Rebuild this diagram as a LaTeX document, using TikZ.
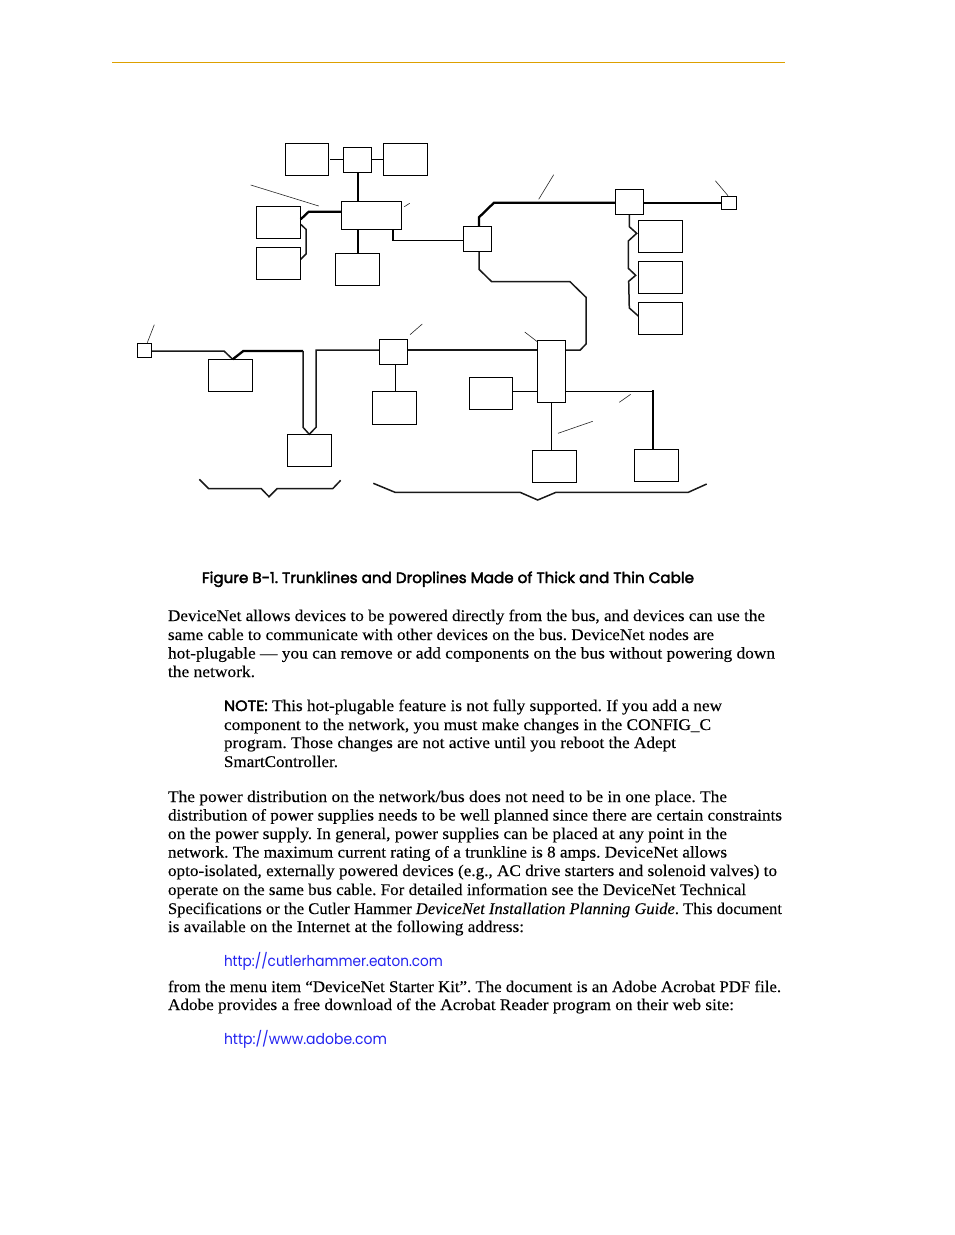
\documentclass[tikz,border=0pt]{standalone}
\usepackage{fontspec}
\usepackage{graphicx}
\setmainfont[FakeBold=0.12]{Liberation Serif}
\newfontfamily\hdfont{Poppins}
\newfontfamily\hdbold[FakeBold=2.6]{Poppins}
\definecolor{rulegold}{HTML}{DDA000}
\definecolor{linkblue}{HTML}{2222F0}
\tikzset{
  devbox/.style={draw=black,fill=white,line width=0.9pt,rectangle,inner sep=0pt,outer sep=0pt},
  trunk/.style={line width=2.3pt,line join=miter,black},
  drop/.style={line width=1.5pt,line join=miter,black!90},
  thin cable/.style={line width=1pt,black},
  lead/.style={line width=0.6pt,black!85},
  bodyline/.style={anchor=base west,inner sep=0pt,outer sep=0pt,font=\fontsize{16.3}{18}\selectfont\frenchspacing},
}
% box from corners
\newcommand{\bx}[5]{%
  \pgfmathsetmacro{\bw}{#4-#2}\pgfmathsetmacro{\bh}{#5-#3}%
  \pgfmathsetmacro{\cxx}{(#2+#4)/2}\pgfmathsetmacro{\cyy}{(#3+#5)/2}%
  \node[devbox,minimum width=\bw pt,minimum height=\bh pt] (#1) at (\cxx,\cyy) {};}
% text line: name, x, baseline y, width, text
\newcommand{\tl}[5]{\node[bodyline] (#1) at (#2,#3) {\resizebox{#4pt}{\height}{#5}};}
\newcommand{\hd}[1]{{\hdfont\fontsize{15}{18}\selectfont #1}}
\newcommand{\hb}[1]{{\hdbold\fontsize{15}{18}\selectfont #1}}
\begin{document}
\begin{tikzpicture}[x=1pt,y=-1pt]
\useasboundingbox (0,0) rectangle (954,1235);
\coordinate (ruleL) at (112,62.8);
\coordinate (ruleR) at (785,62.8);
\draw[rulegold,line width=0.95pt] (ruleL) -- (ruleR);

\bx{boxA}{285.3}{143.3}{328.7}{175.3}
\bx{hubA}{343.3}{147.3}{371.7}{172.7}
\bx{boxC}{383.3}{143.3}{427.7}{175.3}
\bx{boxD}{341.3}{201.3}{401.7}{229.3}
\bx{boxE}{256.3}{206.3}{300.7}{238.7}
\bx{boxF}{256.3}{247.3}{300.7}{279.3}
\bx{boxG}{335.3}{253.3}{379.7}{285.3}
\bx{hubB}{463.3}{226.3}{491.7}{251.3}
\bx{hubC}{615.3}{189.3}{643.7}{214.3}
\bx{termA}{721.3}{196.3}{736.7}{209.3}
\bx{boxI}{638.3}{220.3}{682.7}{252.3}
\bx{boxJ}{638.3}{261.3}{682.7}{293.3}
\bx{boxK}{638.3}{302.3}{682.7}{334.3}
\bx{busV}{537.3}{340.3}{565.7}{402.3}
\bx{termB}{137.3}{343.3}{151.7}{357.3}
\bx{boxL}{208.3}{359.3}{252.3}{391.3}
\bx{boxM}{287.3}{434.3}{331.3}{466.3}
\bx{hubD}{379.3}{339.3}{407.7}{364.3}
\bx{boxN}{372.3}{391.3}{416.3}{424.3}
\bx{boxO}{469.3}{377.3}{512.7}{409.3}
\bx{boxP}{634.3}{449.3}{678.3}{481.3}
\bx{boxQ}{532.3}{450.3}{576.3}{482.3}

% top cluster
\draw[thin cable] (330,159.3) -- (hubA.west |- 0,159.3);
\draw[thin cable] (hubA.east |- 0,159.3) -- (boxC.west |- 0,159.3);
\draw[trunk] (hubA.south -| 358,0) -- (boxD.north -| 358,0);
\draw[trunk] (boxD.west |- 0,211.7) -- (308.7,211.7) -- (boxE.east |- 0,219.3);
\draw[drop] (boxE.east |- 0,224.3) -- (306,229.3) -- (306,254) -- (boxF.east |- 0,259.3);
\draw[trunk] (boxD.south -| 358,0) -- (boxG.north -| 358,0);
\draw[trunk] (boxD.south -| 393,0) -- (393,240.8);
\draw[thin cable] (393,240.3) -- (hubB.west |- 0,240.3);

% upper trunk
\draw[trunk] (hubB.north -| 479,0) -- (479,217.3) -- (494,202.7) -- (hubC.west |- 0,202.7);
\draw[trunk] (hubC.east |- 0,202.7) -- (termA.west |- 0,202.7);
\draw[drop] (hubB.south -| 479,0) -- (479,269.3) -- (491.7,281.7) -- (570,281.7) -- (586,297.3) -- (586,344) -- (580.3,350) -- (busV.east |- 0,350);

% right drops
\draw[drop] (hubC.south -| 629.3,0) -- (629.3,226.7) -- (636.7,233.3) -- (628.3,241) -- (628.3,268.3) -- (635.7,275.3) -- (628.7,281.3) -- (629.3,308) -- (boxK.west |- 0,316);

% lower trunk
\draw[drop] (termB.east |- 0,351) -- (224,351) -- (232.7,359.3);
\draw[trunk] (232.7,359.3) -- (243.3,351) -- (303,351);
\draw[drop] (303,351) -- (303,427.3) -- (309.3,434.3) -- (316,427.3) -- (316,350) -- (hubD.west |- 0,350);
\draw[drop] (hubD.east |- 0,350) -- (busV.west |- 0,350);
\draw[thin cable] (hubD.south -| 395.7,0) -- (boxN.north -| 395.7,0);

% bottom right
\draw[thin cable] (boxO.east |- 0,391.3) -- (busV.west |- 0,391.3);
\draw[thin cable] (busV.east |- 0,391.3) -- (653,391.3);
\draw[trunk] (653,390.4) -- (boxP.north -| 653,0);
\draw[thin cable] (busV.south -| 551.7,0) -- (boxQ.north -| 551.7,0);

% box outlines over the cable ends
\foreach \b in {hubA,boxD,hubB,hubC,termA,busV,termB,hubD,boxE,boxF,boxG,boxI,boxJ,boxK,boxL,boxM,boxN,boxO,boxP,boxQ,boxA,boxC}{
  \draw[line width=0.9pt] (\b.south west) rectangle (\b.north east);
}

% braces
\draw[drop] (199.3,479.3) -- (208.7,488.7) -- (261.3,488.7) -- (269,496.7) -- (277,488.7) -- (332.7,488.7) -- (340.7,480.3);
\draw[drop] (373.3,483.3) -- (395,492.3) -- (520,492.3) -- (537.7,500) -- (556,492.3) -- (688.3,492.3) -- (706.7,484);

% leader lines
\draw[lead] (250.7,185) -- (318.7,206);
\draw[lead] (404.3,206.7) -- (409.7,203.3);
\draw[lead] (538.7,199.3) -- (553.7,174.7);
\draw[lead] (715.3,180.7) -- (728,195.7);
\draw[lead] (524.7,332) -- (537.3,341.7);
\draw[lead] (147.3,342.7) -- (154.3,324.7);
\draw[lead] (410,334.7) -- (422.3,324);
\draw[lead] (619.3,402.3) -- (630.7,394.3);
\draw[lead] (558,433.3) -- (592.7,421.3);

% text
\tl{cap}{202}{583}{492}{\hb{Figure B-1. Trunklines and Droplines Made of Thick and Thin Cable}}
\tl{a1}{168}{621}{597}{DeviceNet allows devices to be powered directly from the bus, and devices can use the}
\tl{a2}{168}{640}{546}{same cable to communicate with other devices on the bus. DeviceNet nodes are}
\tl{a3}{168}{658.5}{607}{hot-plugable — you can remove or add components on the bus without powering down}
\tl{a4}{168}{677}{87}{the network.}
\tl{n1}{224}{711}{498}{\hb{NOTE:} This hot-plugable feature is not fully supported. If you add a new}
\tl{n2}{224}{730}{487}{component to the network, you must make changes in the CONFIG\_C}
\tl{n3}{224}{748}{452}{program. Those changes are not active until you reboot the Adept}
\tl{n4}{224}{767}{114}{SmartController.}
\tl{p1}{168}{802}{559}{The power distribution on the network/bus does not need to be in one place. The}
\tl{p2}{168}{820.5}{614}{distribution of power supplies needs to be well planned since there are certain constraints}
\tl{p3}{168}{839}{559}{on the power supply. In general, power supplies can be placed at any point in the}
\tl{p4}{168}{857.5}{559}{network. The maximum current rating of a trunkline is 8 amps. DeviceNet allows}
\tl{p5}{168}{876}{609}{opto-isolated, externally powered devices (e.g., AC drive starters and solenoid valves) to}
\tl{p6}{168}{895}{578}{operate on the same bus cable. For detailed information see the DeviceNet Technical}
\tl{p7}{168}{914}{614}{Specifications or the Cutler Hammer \textit{DeviceNet Installation Planning Guide}. This document}
\tl{p8}{168}{932}{356}{is available on the Internet at the following address:}
\tl{u1}{224}{966}{219}{\textcolor{linkblue}{\hd{http://cutlerhammer.eaton.com}}}
\tl{f1}{168}{992}{613}{from the menu item “DeviceNet Starter Kit”. The document is an Adobe Acrobat PDF file.}
\tl{f2}{168}{1010}{566}{Adobe provides a free download of the Acrobat Reader program on their web site:}
\tl{u2}{224}{1044}{163}{\textcolor{linkblue}{\hd{http://www.adobe.com}}}
\end{tikzpicture}
\end{document}
